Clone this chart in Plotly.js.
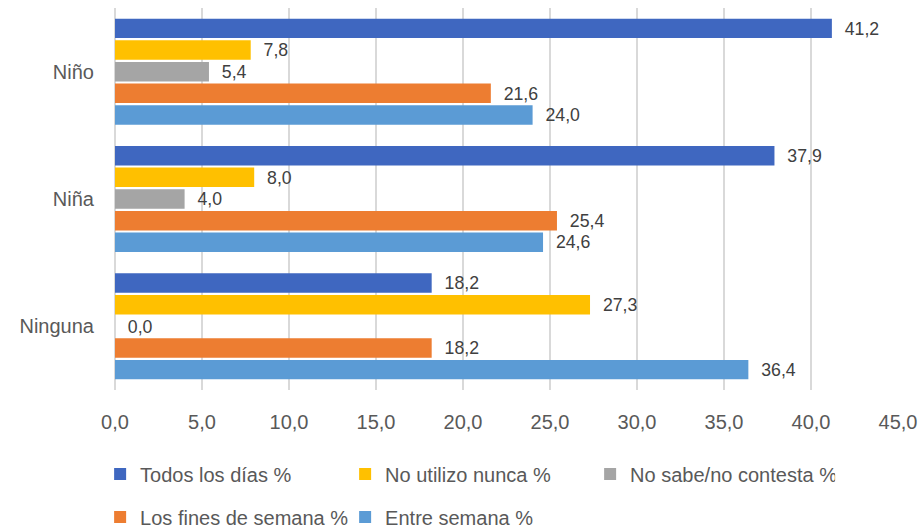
<!DOCTYPE html>
<html><head><meta charset="utf-8">
<script src="https://cdn.plot.ly/plotly-3.0.1.min.js"></script>
<style>html,body{margin:0;padding:0;background:#fff}#c{width:924px;height:531px}</style>
</head><body><div id="c"></div>
<script>
const categories = ["Niño", "Niña", "Ninguna"];
const seriesNames = ["Todos los días %", "No utilizo nunca %", "No sabe/no contesta %", "Los fines de semana %", "Entre semana %"];
const todosLosDias = [41.2, 37.9, 18.2];
const noUtilizoNunca = [7.8, 8.0, 27.3];
const noSabe = [5.4, 4.0, 0.0];
const finesDeSemana = [21.6, 25.4, 18.2];
const entreSemana = [24.0, 24.6, 36.4];
const xTicks = [0, 5, 10, 15, 20, 25, 30, 35, 40, 45];

const values = [todosLosDias, noUtilizoNunca, noSabe, finesDeSemana, entreSemana];
const colors = ["#3F67C0", "#FFC000", "#A5A5A5", "#ED7D31", "#5B9BD5"];
const legends = ["legend", "legend", "legend", "legend2", "legend2"];

const FONT = "Liberation Sans, Arial, sans-serif";
const traces = values.map((v, i) => ({
  type: "bar", orientation: "h", name: seriesNames[i],
  y: categories, x: v,
  marker: {color: colors[i]},
  text: v, texttemplate: "\u00a0\u00a0%{x:.1f}", textposition: "outside",
  textfont: {family: FONT, size: 20, color: "#404040"},
  cliponaxis: false,
  legend: legends[i],
  hoverinfo: "x+name"
}));

const layout = {
  width: 924, height: 531,
  margin: {l: 115, r: 26, t: 8, b: 141, autoexpand: false},
  separators: ",.",
  barmode: "group", bargap: 0.15, bargroupgap: 0.1,
  paper_bgcolor: "#fff", plot_bgcolor: "#fff",
  font: {family: FONT, size: 20, color: "#595959"},
  xaxis: {range: [0, 45], tickvals: xTicks, tickformat: ".1f",
    showgrid: true, gridcolor: "#D9D9D9", gridwidth: 1.5,
    zeroline: true, zerolinecolor: "#D9D9D9", zerolinewidth: 1.5,
    showline: false, ticks: "", ticklabelstandoff: 18, automargin: false,
    tickfont: {family: FONT, size: 20, color: "#595959"}, fixedrange: true},
  yaxis: {type: "category", autorange: "reversed", showgrid: false, zeroline: false,
    showline: false, ticks: "", ticklabelstandoff: 20, automargin: false,
    tickfont: {family: FONT, size: 20, color: "#595959"}, fixedrange: true},
  showlegend: true,
  legend: {orientation: "h", x: -0.019, xanchor: "left", y: -0.22, yanchor: "middle",
    entrywidth: 200, itemwidth: 30, font: {family: FONT, size: 20, color: "#595959"}},
  legend2: {orientation: "h", x: -0.019, xanchor: "left", y: -0.3325, yanchor: "middle",
    entrywidth: 200, itemwidth: 30, font: {family: FONT, size: 20, color: "#595959"}}
};
Plotly.newPlot("c", traces, layout, {displayModeBar: false, staticPlot: true});
</script></body></html>
